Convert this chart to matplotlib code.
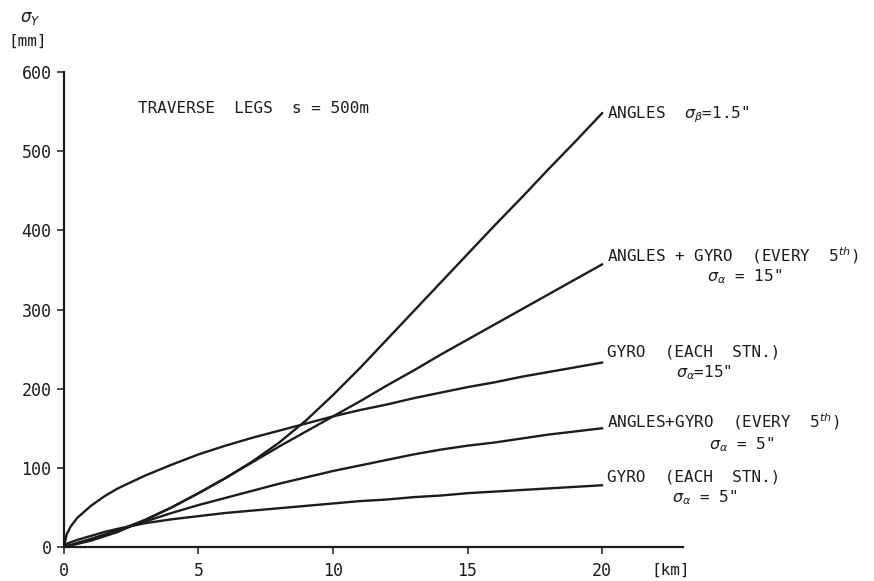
import matplotlib
matplotlib.use("Agg")
import matplotlib.pyplot as plt


# ---------- values ----------
km = [0, 1, 2, 3, 4, 5, 6, 7, 8, 9, 10, 11, 12, 13, 14, 15, 16, 17, 18, 19, 20]

angles_b15 = [0, 8, 19, 34, 50, 68, 87, 108, 132, 160, 192, 226, 262, 298, 334, 370, 406, 441, 477, 512, 548]
angles_gyro_a15 = [0, 10, 21, 34, 50, 68, 87, 107, 127, 146, 165, 184, 204, 223, 243, 262, 281, 300, 319, 338, 357]
angles_gyro_a5 = [0, 10, 21, 32, 43, 53, 62, 71, 80, 88, 96, 103, 110, 117, 123, 128, 132, 137, 142, 146, 150]

km_fine = [0, 0.1, 0.25, 0.5, 1, 1.5, 2, 3, 4, 5, 6, 7, 8, 9, 10, 11, 12, 13, 14, 15, 16, 17, 18, 19, 20]
gyro_a15 = [0, 16, 26, 37, 52, 64, 74, 90, 104, 117, 128, 138, 147, 156, 165, 173, 180, 188, 195, 202, 208, 215, 221, 227, 233]
gyro_a5 = [0, 4, 6, 9, 14, 19, 23, 30, 35, 39, 43, 46, 49, 52, 55, 58, 60, 63, 65, 68, 70, 72, 74, 76, 78]

x_ticks = [0, 5, 10, 15, 20]
y_ticks = [0, 100, 200, 300, 400, 500, 600]

# (first line, second line, y of first line, y of second line, x centre of second line)
curve_labels = [
    (r'ANGLES  $\sigma_\beta$=1.5"', None, 546, None, None),
    (r'ANGLES + GYRO  (EVERY  5$^{th}$)', r'$\sigma_\alpha$ = 15"', 368, 342, 25.3),
    ("GYRO  (EACH  STN.)", r'$\sigma_\alpha$=15"', 246, 220, 23.8),
    (r'ANGLES+GYRO  (EVERY  5$^{th}$)', r'$\sigma_\alpha$ = 5"', 158, 129, 25.2),
    ("GYRO  (EACH  STN.)", r'$\sigma_\alpha$ = 5"', 88, 62, 23.8),
]
# -----------------------------------------------

INK = "#1c1c1c"
FONT = "DejaVu Sans Mono"
plt.rcParams["font.family"] = FONT
plt.rcParams["mathtext.fontset"] = "dejavusans"

fig = plt.figure(figsize=(8.74, 5.81), dpi=100)
ax = fig.add_axes([0.0732, 0.0585, 0.708, 0.8175])

lw = 1.7
ax.plot(km, angles_b15, color=INK, lw=lw)
ax.plot(km, angles_gyro_a15, color=INK, lw=lw)
ax.plot(km_fine, gyro_a15, color=INK, lw=lw)
ax.plot(km, angles_gyro_a5, color=INK, lw=lw)
ax.plot(km_fine, gyro_a5, color=INK, lw=lw)

ax.set_xlim(0, 23)
ax.set_ylim(0, 600)
ax.set_xticks(x_ticks)
ax.set_yticks(y_ticks)

for side in ("top", "right"):
    ax.spines[side].set_visible(False)
for side in ("left", "bottom"):
    ax.spines[side].set_color(INK)
    ax.spines[side].set_linewidth(1.6)

ax.tick_params(axis="both", direction="out", length=5, width=1.1, colors=INK,
               labelsize=12, pad=4)
ax.tick_params(axis="x", pad=6)

txt = dict(color=INK, fontsize=11.5, clip_on=False, va="center")

ax.text(2.75, 554, "TRAVERSE  LEGS  s = 500m", ha="left", **txt)

for first, second, y1, y2, xc in curve_labels:
    ax.text(20.2, y1, first, ha="left", **txt)
    if second is not None:
        ax.text(xc, y2, second, ha="center", **txt)

# axis titles placed in figure pixels, as in the original lettering
fig.text(30 / 874, 1 - 18 / 581, r"$\sigma_{Y}$", color=INK, fontsize=12,
         ha="center", va="center")
fig.text(28 / 874, 1 - 41 / 581, "[mm]", color=INK, fontsize=11.5,
         ha="center", va="center")
ax.text(22.55, -29, "[km]", ha="center", **txt)

fig.savefig("out.png", dpi=100, facecolor="white")
plt.close(fig)
